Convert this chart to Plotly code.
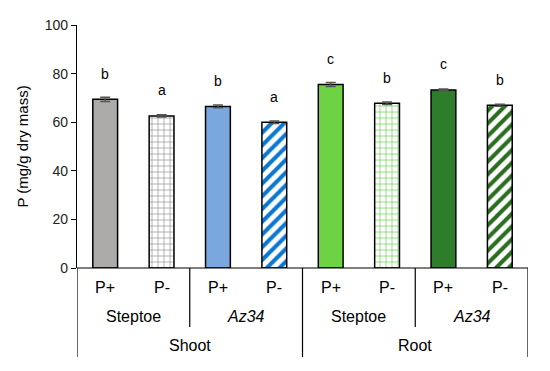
import plotly.graph_objects as go

tissue = ["Shoot", "Root"]
genotype = ["Steptoe", "<i>Az34</i>", "Steptoe", "<i>Az34</i>"]
treatment = ["P+", "P-", "P+", "P-", "P+", "P-", "P+", "P-"]
values = [69.4, 62.6, 66.5, 60.0, 75.5, 67.8, 73.3, 67.0]
errors = [0.9, 0.5, 0.6, 0.5, 0.8, 0.5, 0.4, 0.4]
letters = ["b", "a", "b", "a", "c", "b", "c", "b"]

fill_colors = ["#adaaaa", "white", "#7aa7dd", "white", "#6dd345", "white", "#2e7d2b", "white"]
pattern_shapes = ["", "+", "", "/", "", "+", "", "/"]
pattern_colors = ["#adaaaa", "#8c8c8c", "#7aa7dd", "#0a78d2", "#6dd345", "#5ccd40", "#2e7d2b", "#2a6e1f"]
pattern_sizes = [6, 6, 6, 9, 6, 6, 6, 9]
pattern_solidity = [0.3, 0.2, 0.3, 0.45, 0.3, 0.2, 0.3, 0.45]

FONT = "Liberation Sans, Arial"
PLOT_H = 251.0

fig = go.Figure()
for i, v in enumerate(values):
    fig.add_trace(go.Bar(
        x=[i], y=[v],
        marker=dict(
            color=fill_colors[i],
            line=dict(color="black", width=1.5),
            pattern=dict(shape=pattern_shapes[i], fgcolor=pattern_colors[i], bgcolor="white",
                         size=pattern_sizes[i], solidity=pattern_solidity[i], fillmode="replace")
            if pattern_shapes[i] else None,
        ),
        error_y=dict(type="data", array=[errors[i]], color="#555555", thickness=1.5, width=5),
        width=0.44,
        showlegend=False,
    ))

annotations = []
for i, (v, l) in enumerate(zip(values, letters)):
    annotations.append(dict(x=i, y=v + 10.5, xref="x", yref="y", text=l, showarrow=False,
                            yanchor="middle", font=dict(size=14, color="black", family=FONT)))
for i, t in enumerate(treatment):
    annotations.append(dict(x=i, y=-20 / PLOT_H, xref="x", yref="paper", text=t, showarrow=False,
                            yanchor="middle", font=dict(size=16, color="black", family=FONT)))
for j, g in enumerate(genotype):
    annotations.append(dict(x=2 * j + 0.5, y=-50 / PLOT_H, xref="x", yref="paper", text=g, showarrow=False,
                            yanchor="middle", font=dict(size=16, color="black", family=FONT)))
for k, t in enumerate(tissue):
    annotations.append(dict(x=4 * k + 1.5, y=-80 / PLOT_H, xref="x", yref="paper", text=t, showarrow=False,
                            yanchor="middle", font=dict(size=16, color="black", family=FONT)))

shapes = []
shapes.append(dict(type="line", xref="x", yref="paper", x0=-0.57, x1=7.5, y0=0, y1=0,
                   line=dict(color="black", width=1.2)))
for xb in [-0.5, 3.5, 7.5]:
    shapes.append(dict(type="line", xref="x", yref="paper", x0=xb, x1=xb, y0=0, y1=-92 / PLOT_H,
                       line=dict(color="black", width=1.2)))
for xb in [1.5, 5.5]:
    shapes.append(dict(type="line", xref="x", yref="paper", x0=xb, x1=xb, y0=0, y1=-61 / PLOT_H,
                       line=dict(color="black", width=1.2)))

fig.update_layout(
    width=550, height=371,
    margin=dict(l=69, r=30, t=9, b=111),
    barmode="overlay",
    paper_bgcolor="white", plot_bgcolor="white",
    font=dict(family=FONT, size=13, color="black"),
    annotations=annotations,
    shapes=shapes,
    xaxis=dict(range=[-0.5, 7.5], showticklabels=False, showgrid=False, zeroline=False,
               showline=False, ticks=""),
    yaxis=dict(range=[0, 100], tickvals=[0, 20, 40, 60, 80, 100], showgrid=False, zeroline=False,
               showline=True, linecolor="black", linewidth=1.2, ticks="outside", ticklen=5,
               tickcolor="black", tickfont=dict(size=14, color="#222222"), ticklabeloverflow="allow",
               title=dict(text="P (mg/g dry mass)", font=dict(size=15), standoff=12)),
)

fig.write_html("out.html")
